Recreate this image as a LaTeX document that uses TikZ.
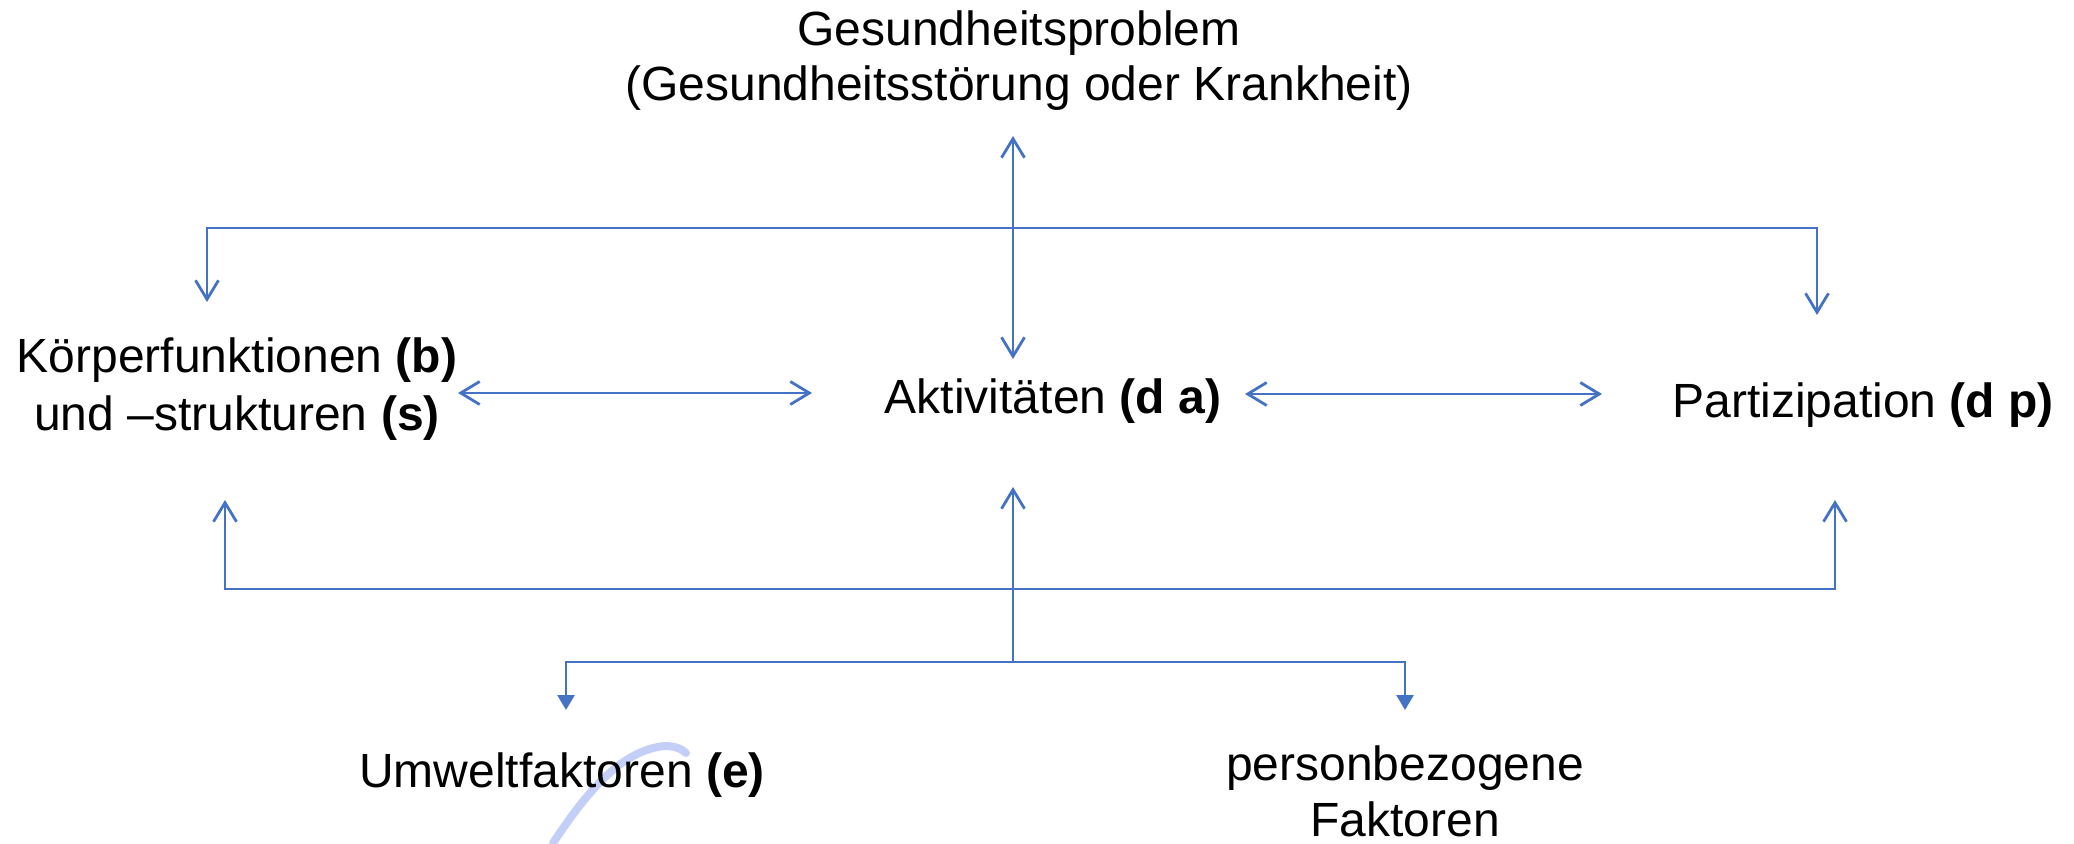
\documentclass[tikz,border=0pt]{standalone}
\usepackage{fontspec}
\setmainfont{Liberation Sans}
\usetikzlibrary{arrows.meta}
\definecolor{icfblue}{HTML}{4472C4}
\definecolor{strayblue}{RGB}{195,207,247}
\tikzset{
  lbl/.style={inner sep=0pt, anchor=base, align=center, text=black},
  conn/.style={draw=icfblue, line width=2.8pt},
  barbs/.style={conn, {Straight Barb[length=19pt,width=23pt]}-{Straight Barb[length=19pt,width=23pt]}},
  barbend/.style={conn, -{Straight Barb[length=19pt,width=23pt]}},
  tris/.style={conn, {Triangle[length=15pt,width=17pt]}-{Triangle[length=15pt,width=17pt]}}
}
\begin{document}
\begin{tikzpicture}[x=1pt,y=-1pt]
\useasboundingbox (0,0) rectangle (2074,843);
% stray light stroke
\draw[strayblue, line width=8pt, line cap=round]
  (553,843) .. controls (585,795) and (620,750) .. (665,746)
  .. controls (675,746) and (682,749) .. (686,753);
% texts (base anchor = baseline of the last line)
\node[lbl, font=\fontsize{48}{55}\selectfont] (gp) at (1019,100)
  {Gesundheitsproblem\\(Gesundheitsstörung oder Krankheit)};
\node[lbl, font=\fontsize{48}{58}\selectfont] (kf) at (237,430)
  {Körperfunktionen \textbf{(b)}\\und –strukturen \textbf{(s)}};
\node[lbl, font=\fontsize{48}{58}\selectfont] (akt) at (1053,413)
  {Aktivitäten \textbf{(d a)}};
\node[lbl, font=\fontsize{48}{58}\selectfont] (part) at (1863,417)
  {Partizipation \textbf{(d p)}};
\node[lbl, font=\fontsize{48}{58}\selectfont] (umw) at (562,787)
  {Umweltfaktoren \textbf{(e)}};
\node[lbl, font=\fontsize{48}{56}\selectfont, text depth=0pt] (pers) at (1405,836)
  {personbezogene\\Faktoren};
% connector end points
\coordinate (gpIn) at (1013,136);
\coordinate (aktTop) at (1013,359);
\coordinate (aktBot) at (1013,487);
\coordinate (kfTop) at (207,302);
\coordinate (partTop) at (1817,315);
\coordinate (kfBot) at (225,500);
\coordinate (partBot) at (1835,500);
\coordinate (kfR) at (458,393);
\coordinate (aktL) at (812,393);
\coordinate (aktR) at (1245,394);
\coordinate (partL) at (1602,394);
\coordinate (topJ) at (1013,228);
\coordinate (midJ) at (1013,589);
\coordinate (lowJ) at (1013,662);
\coordinate (umwTop) at (566,710);
\coordinate (persTop) at (1405,710);
% connectors
\draw[barbs] (gpIn) -- (aktTop);
\draw[barbs] (kfTop) |- (topJ) -| (partTop);
\draw[barbs] (kfR) -- (aktL);
\draw[barbs] (aktR) -- (partL);
\draw[barbs] (kfBot) |- (midJ) -| (partBot);
\draw[barbend] (lowJ) -- (aktBot);
\draw[tris] (umwTop) |- (lowJ) -| (persTop);
\end{tikzpicture}
\end{document}
